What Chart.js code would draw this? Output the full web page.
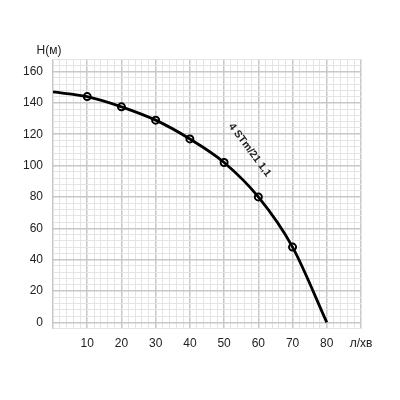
<!DOCTYPE html><html><head><meta charset="utf-8">
<script src="https://cdn.jsdelivr.net/npm/chart.js@4"></script>
<style>body{margin:0;background:#fff}#w{width:400px;height:400px}</style></head><body><div id="w"><canvas id="c"></canvas></div>
<script>
const flowCurve=[0,10,20,30,40,50,60,70,80];
const headCurve=[147,144,137.5,129,117,102,80,48,0];
const flowPts=[10,20,30,40,50,60,70];
const headPts=[144,137.5,129,117,102,80,48];
const curveLabel='4 STm/21 1,1';
const yTitle='H(м)', xTitle='л/хв';
const font={family:'Liberation Sans, Arial',size:12};
const deco={id:'deco',afterDraw(ch){const c=ch.ctx,x=ch.scales.x,y=ch.scales.y;c.save();c.fillStyle='#222';c.font='12px Liberation Sans, Arial';
c.textAlign='center';c.textBaseline='bottom';c.fillText(yTitle,x.left-4,y.top-2);
c.translate(x.getPixelForValue(57.5),y.getPixelForValue(110));c.rotate(53*Math.PI/180);c.font='bold 10.5px Liberation Sans, Arial';c.textBaseline='middle';c.fillText(curveLabel,0,0);c.restore();}};
new Chart(document.getElementById('c'),{type:'scatter',data:{datasets:[
{data:flowCurve.map((v,i)=>({x:v,y:headCurve[i]})),showLine:true,cubicInterpolationMode:'monotone',borderColor:'#000',borderWidth:2.8,pointRadius:0},
{data:flowPts.map((v,i)=>({x:v,y:headPts[i]})),pointRadius:3.5,pointBorderWidth:2,pointBorderColor:'#000',pointBackgroundColor:'#fff'}]},
options:{animation:false,responsive:true,maintainAspectRatio:false,layout:{padding:{top:59,right:39,bottom:41,left:4}},
plugins:{legend:{display:false},tooltip:{enabled:false}},
scales:{x:{type:'linear',min:0,max:90,afterBuildTicks(a){a.ticks=[];for(let v=0;v<=90;v+=2)a.ticks.push({value:v});},
ticks:{autoSkip:false,maxRotation:0,color:'#222',font,padding:8,callback:v=>v===90?xTitle:(v%10===0&&v>0?String(v):'')},
grid:{color:c=>c.tick&&c.tick.value%10===0?'#c8c8c8':'#e4e4e4',lineWidth:c=>c.tick&&c.tick.value%10===0?1.5:1,drawTicks:false},border:{display:false}},
y:{min:-4,max:168,afterBuildTicks(a){a.ticks=[];for(let v=-4;v<=168;v+=4)a.ticks.push({value:v});},afterFit(a){a.width=49},
ticks:{autoSkip:false,color:'#222',font,padding:10,callback:v=>v%20===0&&v<=160?String(v):''},
grid:{color:c=>c.tick&&c.tick.value%20===0?'#c8c8c8':'#e4e4e4',lineWidth:c=>c.tick&&c.tick.value%20===0?1.5:1,drawTicks:false},border:{display:false}}}},
plugins:[deco]});
</script></body></html>
